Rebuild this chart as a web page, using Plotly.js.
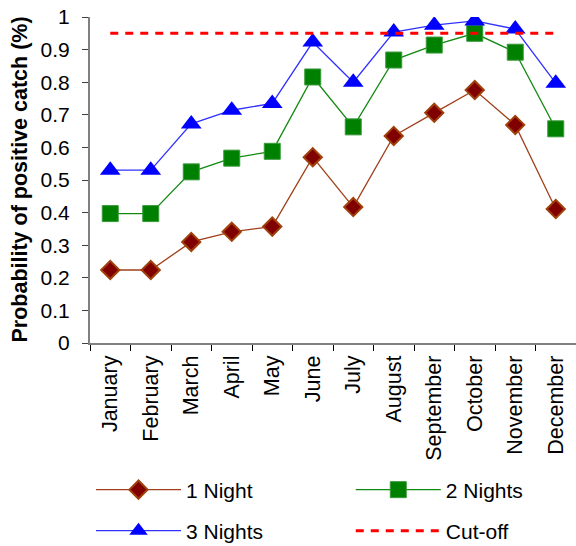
<!DOCTYPE html>
<html><head><meta charset="utf-8">
<script src="https://cdn.plot.ly/plotly-3.0.1.min.js"></script>
<style>body{margin:0;padding:0;background:#fff}#chart{width:576px;height:546px}</style>
</head><body><div id="chart"></div>
<script>
const months = ["January","February","March","April","May","June","July","August","September","October","November","December"];
const night1 = [0.224,0.224,0.31,0.341,0.357,0.57,0.417,0.635,0.706,0.776,0.669,0.411];
const night2 = [0.397,0.397,0.525,0.567,0.588,0.816,0.663,0.868,0.914,0.95,0.892,0.657];
const night3 = [0.53,0.53,0.672,0.714,0.735,0.923,0.80,0.954,0.975,0.988,0.963,0.797];
const cutoff = [0.95,0.95,0.95,0.95,0.95,0.95,0.95,0.95,0.95,0.95,0.95,0.95];
const yTickVals = [0,0.1,0.2,0.3,0.4,0.5,0.6,0.7,0.8,0.9,1];
const yTickText = ["0","0.1","0.2","0.3","0.4","0.5","0.6","0.7","0.8","0.9","1"];

const traces = [
  {x: months, y: night1, name: "1 Night", type: "scatter", mode: "lines+markers", legend: "legend",
   line: {color: "#A0401A", width: 1.3},
   marker: {symbol: "diamond", size: 14, color: "#800000", line: {color: "#A0400A", width: 2}}},
  {x: months, y: night2, name: "2 Nights", type: "scatter", mode: "lines+markers", legend: "legend2",
   line: {color: "#128A12", width: 1.3},
   marker: {symbol: "square", size: 16, color: "#008000", line: {color: "#3A9A3A", width: 1}}},
  {x: months, y: night3, name: "3 Nights", type: "scatter", mode: "lines+markers", legend: "legend3",
   line: {color: "#3030FF", width: 1.3},
   marker: {symbol: "triangle-up", size: 18, color: "#0000FF", line: {color: "#0000FF", width: 0}}},
  {x: months, y: cutoff, name: "Cut-off", type: "scatter", mode: "lines", legend: "legend4",
   line: {color: "#FF0000", width: 3, dash: "8px,7px"}}
];

function leg(x, y) {
  return {orientation: "v", xref: "container", yref: "container", xanchor: "left", yanchor: "middle",
    x: x, y: y, itemwidth: 85, font: {size: 21}, bgcolor: "rgba(0,0,0,0)", borderwidth: 0};
}

const layout = {
  width: 576, height: 546,
  margin: {l: 90, r: 0, t: 17, b: 203, autoexpand: false},
  paper_bgcolor: "#fff", plot_bgcolor: "#fff",
  font: {family: "Liberation Sans, Arial, sans-serif", size: 21, color: "#000"},
  showlegend: true,
  legend: leg(0.158, 0.1026),
  legend2: leg(0.609, 0.1026),
  legend3: leg(0.158, 0.0275),
  legend4: leg(0.609, 0.0275),
  xaxis: {type: "category", tickangle: -90, showline: true, linecolor: "#808080", linewidth: 2,
    ticks: "outside", tickson: "boundaries", ticklen: 6, tickcolor: "#000", tickwidth: 1,
    showgrid: false, zeroline: false, range: [-0.5, 11.5], tickfont: {size: 21.5},
    ticklabelstandoff: 2},
  yaxis: {range: [0, 1], showline: true, linecolor: "#808080", linewidth: 2,
    ticks: "outside", ticklen: 6, tickcolor: "#404040", showgrid: false, zeroline: false,
    tickfont: {size: 21}, ticklabelstandoff: 8,
    tickvals: yTickVals, ticktext: yTickText},
  annotations: [{text: "<b>Probability of positive catch (%)</b>", xref: "paper", yref: "paper",
    x: -0.145, y: 0.5, xanchor: "center", yanchor: "middle", textangle: -90, showarrow: false,
    font: {size: 21.5}}]
};
Plotly.newPlot("chart", traces, layout, {displayModeBar: false, staticPlot: true});
</script></body></html>
